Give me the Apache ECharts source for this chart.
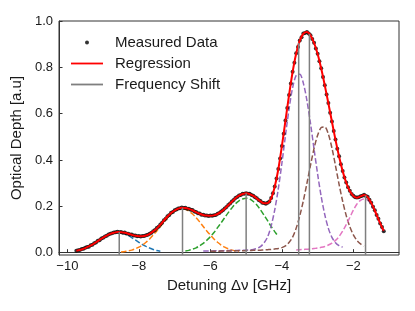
<!DOCTYPE html>
<html><head><meta charset="utf-8">
<script src="https://cdn.jsdelivr.net/npm/echarts@6/dist/echarts.min.js"></script>
<style>html,body{margin:0;padding:0;background:#fff}#c{width:415px;height:311px}</style>
</head><body><div id="c"></div>
<script>
// Measured data (detuning GHz, optical depth)
const measuredX = [-9.75,-9.7,-9.65,-9.6,-9.55,-9.5,-9.45,-9.4,-9.35,-9.3,-9.25,-9.2,-9.15,-9.1,-9.05,-9.0,-8.95,-8.9,-8.85,-8.8,-8.75,-8.7,-8.65,-8.6,-8.55,-8.5,-8.45,-8.4,-8.35,-8.3,-8.25,-8.2,-8.15,-8.1,-8.05,-8.0,-7.95,-7.9,-7.85,-7.8,-7.75,-7.7,-7.65,-7.6,-7.55,-7.5,-7.45,-7.4,-7.35,-7.3,-7.25,-7.2,-7.15,-7.1,-7.05,-7.0,-6.95,-6.9,-6.85,-6.8,-6.75,-6.7,-6.65,-6.6,-6.55,-6.5,-6.45,-6.4,-6.35,-6.3,-6.25,-6.2,-6.15,-6.1,-6.05,-6.0,-5.95,-5.9,-5.85,-5.8,-5.75,-5.7,-5.65,-5.6,-5.55,-5.5,-5.45,-5.4,-5.35,-5.3,-5.25,-5.2,-5.15,-5.1,-5.05,-5.0,-4.95,-4.9,-4.85,-4.8,-4.75,-4.7,-4.65,-4.6,-4.55,-4.5,-4.45,-4.4,-4.35,-4.3,-4.25,-4.2,-4.15,-4.1,-4.05,-4.0,-3.95,-3.9,-3.85,-3.8,-3.75,-3.7,-3.65,-3.6,-3.55,-3.5,-3.45,-3.4,-3.35,-3.3,-3.25,-3.2,-3.15,-3.1,-3.05,-3.0,-2.95,-2.9,-2.85,-2.8,-2.75,-2.7,-2.65,-2.6,-2.55,-2.5,-2.45,-2.4,-2.35,-2.3,-2.25,-2.2,-2.15,-2.1,-2.05,-2.0,-1.95,-1.9,-1.85,-1.8,-1.75,-1.7,-1.65,-1.6,-1.55,-1.5,-1.45,-1.4,-1.35,-1.3,-1.25,-1.2,-1.15];
const measuredY = [0.008,0.011,0.012,0.016,0.017,0.021,0.024,0.026,0.032,0.034,0.041,0.044,0.051,0.054,0.061,0.064,0.070,0.073,0.078,0.082,0.084,0.087,0.088,0.090,0.088,0.089,0.086,0.087,0.083,0.082,0.079,0.078,0.074,0.074,0.071,0.072,0.070,0.072,0.072,0.075,0.077,0.082,0.086,0.093,0.098,0.106,0.112,0.122,0.129,0.140,0.147,0.157,0.163,0.172,0.176,0.183,0.186,0.191,0.192,0.195,0.193,0.194,0.190,0.190,0.185,0.184,0.178,0.176,0.170,0.169,0.164,0.164,0.160,0.161,0.158,0.160,0.159,0.162,0.163,0.168,0.171,0.178,0.183,0.191,0.197,0.206,0.212,0.221,0.227,0.236,0.240,0.247,0.249,0.254,0.254,0.257,0.254,0.254,0.249,0.246,0.239,0.235,0.227,0.223,0.216,0.214,0.211,0.215,0.221,0.236,0.256,0.286,0.320,0.361,0.407,0.461,0.513,0.571,0.624,0.681,0.730,0.781,0.820,0.861,0.888,0.916,0.930,0.946,0.948,0.953,0.946,0.939,0.922,0.906,0.881,0.859,0.826,0.796,0.758,0.723,0.683,0.646,0.604,0.566,0.525,0.488,0.449,0.416,0.382,0.353,0.325,0.303,0.282,0.267,0.253,0.246,0.239,0.238,0.239,0.244,0.246,0.250,0.245,0.241,0.229,0.216,0.198,0.183,0.163,0.146,0.126,0.111,0.093];

// Fit grid
const gridX = [-9.75,-9.7,-9.6,-9.5,-9.4,-9.3,-9.2,-9.1,-9.0,-8.9,-8.8,-8.7,-8.6,-8.5,-8.4,-8.3,-8.2,-8.1,-8.0,-7.9,-7.8,-7.7,-7.6,-7.5,-7.4,-7.3,-7.2,-7.1,-7.0,-6.9,-6.8,-6.7,-6.6,-6.5,-6.4,-6.3,-6.2,-6.1,-6.0,-5.9,-5.8,-5.7,-5.6,-5.5,-5.4,-5.3,-5.2,-5.1,-5.0,-4.9,-4.8,-4.7,-4.6,-4.5,-4.4,-4.3,-4.2,-4.1,-4.0,-3.9,-3.8,-3.7,-3.6,-3.5,-3.4,-3.3,-3.2,-3.1,-3.0,-2.9,-2.8,-2.7,-2.6,-2.5,-2.4,-2.3,-2.2,-2.1,-2.0,-1.9,-1.8,-1.7,-1.6,-1.5,-1.4,-1.3,-1.2,-1.15];
const regressionY = [0.008,0.010,0.014,0.020,0.027,0.035,0.045,0.055,0.065,0.074,0.081,0.086,0.089,0.088,0.086,0.082,0.077,0.073,0.071,0.071,0.074,0.081,0.092,0.105,0.121,0.139,0.156,0.171,0.182,0.190,0.194,0.193,0.189,0.183,0.175,0.168,0.163,0.160,0.159,0.161,0.167,0.177,0.190,0.205,0.220,0.235,0.246,0.253,0.256,0.253,0.245,0.234,0.222,0.213,0.214,0.235,0.285,0.360,0.460,0.570,0.680,0.780,0.860,0.915,0.945,0.952,0.938,0.905,0.858,0.795,0.722,0.645,0.565,0.487,0.415,0.352,0.302,0.266,0.245,0.237,0.243,0.249,0.240,0.215,0.182,0.145,0.110,0.095];

// Fitted components (start detuning on gridX, values)
const peak1Start = -9.7;
const peak1Y = [0.009,0.014,0.020,0.027,0.035,0.045,0.055,0.065,0.074,0.081,0.085,0.087,0.085,0.081,0.074,0.065,0.055,0.045,0.035,0.027,0.020,0.014,0.009,0.006];
const peak2Start = -8.5;
const peak2Y = [0.003,0.005,0.0075,0.011,0.017,0.024,0.033,0.045,0.059,0.076,0.094,0.113,0.133,0.151,0.167,0.179,0.187,0.190,0.187,0.179,0.167,0.151,0.133,0.113,0.094,0.076,0.059,0.045,0.033,0.024,0.017,0.011,0.0075,0.005];
const peak3Start = -6.7;
const peak3Y = [0.007,0.010,0.015,0.021,0.030,0.040,0.054,0.069,0.087,0.108,0.129,0.151,0.173,0.193,0.211,0.224,0.232,0.235,0.232,0.221,0.206,0.185,0.162,0.138,0.113,0.091,0.070];
const peak4Start = -6.2;
const peak4Y = [0.007,0.007,0.007,0.008,0.008,0.008,0.008,0.009,0.009,0.009,0.010,0.010,0.011,0.012,0.014,0.018,0.026,0.042,0.068,0.116,0.185,0.276,0.386,0.506,0.620,0.712,0.765,0.770,0.732,0.657,0.558,0.447,0.339,0.242,0.164,0.105,0.066,0.043,0.030,0.024];
const peak5Start = -6.0;
const peak5Y = [0.006,0.006,0.006,0.007,0.007,0.007,0.007,0.008,0.008,0.008,0.009,0.009,0.010,0.010,0.011,0.012,0.013,0.014,0.016,0.018,0.022,0.029,0.044,0.067,0.106,0.159,0.224,0.299,0.377,0.450,0.507,0.540,0.543,0.512,0.452,0.375,0.295,0.222,0.160,0.112,0.077,0.053,0.038,0.028];
const peak6Start = -3.6;
const peak6Y = [0.012,0.013,0.014,0.015,0.016,0.018,0.020,0.023,0.027,0.033,0.041,0.053,0.070,0.093,0.121,0.152,0.184,0.210,0.226,0.232,0.227,0.207,0.177,0.141,0.104,0.088];

// Frequency shifts (peak centres) and the fit value there
const shiftX = [-8.55,-6.78,-5.0,-3.53,-3.23,-1.66];
const shiftTop = [0.089,0.194,0.256,0.905,0.944,0.248];

// Axis ticks
const xTicks = [-10,-8,-6,-4,-2];
const yTicks = [0,0.2,0.4,0.6,0.8,1.0];

const compColors = ['#1f77b4','#ff7f0e','#2ca02c','#9467bd','#8c564b','#e377c2'];
const comps = [[peak1Start,peak1Y],[peak2Start,peak2Y],[peak3Start,peak3Y],[peak4Start,peak4Y],[peak5Start,peak5Y],[peak6Start,peak6Y]];

const yMin = -0.01;
const series = [];
comps.forEach(([start, ys], k) => {
  const i0 = gridX.indexOf(start);
  series.push({
    type: 'line', name: 'comp' + k, data: ys.map((v, i) => [gridX[i0 + i], v]),
    showSymbol: false, symbol: 'none', smooth: 0.3, z: 3, silent: true,
    lineStyle: { color: compColors[k], width: 1.5, type: [5.5, 2.4] }
  });
});
series.push({
  type: 'scatter', name: 'Measured Data', data: measuredX.map((x, i) => [x, measuredY[i]]),
  symbol: 'circle', symbolSize: 4, itemStyle: { color: '#000' }, z: 4
});
series.push({
  type: 'line', name: 'Regression', data: gridX.map((x, i) => [x, regressionY[i]]),
  showSymbol: false, symbol: 'none', smooth: 0.3, z: 5,
  lineStyle: { color: '#ff0000', width: 2 }, itemStyle: { color: '#ff0000' }
});
shiftX.forEach((x, k) => {
  series.push({
    type: 'line', name: 'Frequency Shift', data: [[x, yMin], [x, shiftTop[k]]],
    showSymbol: false, symbol: 'none', z: 6,
    lineStyle: { color: '#7f7f7f', width: 1.5 }, itemStyle: { color: '#7f7f7f' }
  });
});

const lineIcon = 'path://M0,0L32,0L32,1.8L0,1.8Z';
const chart = echarts.init(document.getElementById('c'), null, { renderer: 'canvas' });
chart.setOption({
  animation: false,
  backgroundColor: '#fff',
  textStyle: { fontFamily: 'Liberation Sans' },
  grid: { left: 59, right: 16, top: 21, bottom: 56, show: true, borderColor: '#333', borderWidth: 1, containLabel: false },
  legend: {
    orient: 'vertical', left: 66, top: 30, itemWidth: 32, itemHeight: 4, itemGap: 6,
    textStyle: { fontSize: 15, color: '#1a1a1a', fontFamily: 'Liberation Sans', padding: [0, 0, 0, 7], lineHeight: 15 },
    data: [
      { name: 'Measured Data', icon: 'circle' },
      { name: 'Regression', icon: lineIcon },
      { name: 'Frequency Shift', icon: lineIcon }
    ]
  },
  xAxis: {
    type: 'value', min: -10.235, max: -0.724,
    name: 'Detuning Δν [GHz]', nameLocation: 'middle', nameGap: 21,
    nameTextStyle: { fontSize: 15, color: '#1a1a1a' },
    axisLine: { show: true, lineStyle: { color: '#333' } },
    splitLine: { show: false },
    axisTick: { show: true, inside: true, length: 3.5, customValues: xTicks, lineStyle: { color: '#333' } },
    axisLabel: { customValues: xTicks, fontSize: 13, color: '#1a1a1a', margin: 5,
      formatter: v => (v < 0 ? '\u2212' : '') + Math.abs(v) }
  },
  yAxis: {
    type: 'value', min: yMin, max: 1.0,
    name: 'Optical Depth [a.u]', nameLocation: 'middle', nameGap: 29,
    nameTextStyle: { fontSize: 15, color: '#1a1a1a' },
    axisLine: { show: true, lineStyle: { color: '#333' } },
    splitLine: { show: false },
    axisTick: { show: true, inside: true, length: 3.5, customValues: yTicks, lineStyle: { color: '#333' } },
    axisLabel: { customValues: yTicks, fontSize: 13, color: '#1a1a1a', margin: 6,
      formatter: v => v.toFixed(1) }
  },
  series: series
});
</script></body></html>
